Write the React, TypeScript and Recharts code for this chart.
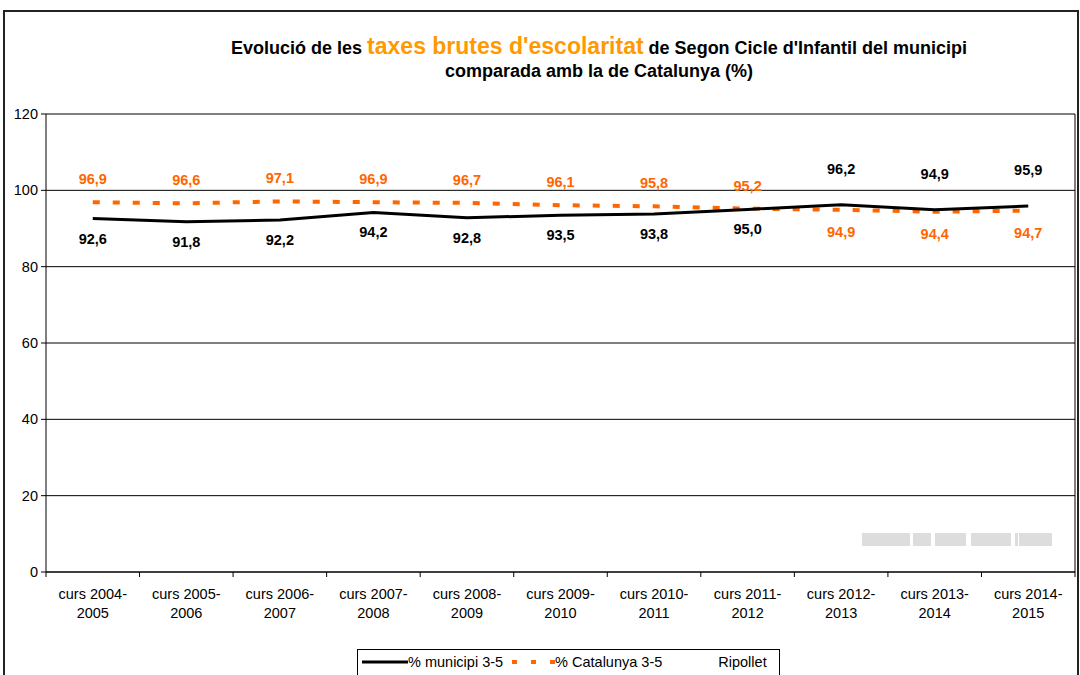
import React from "react";
import {
  LineChart,
  Line,
  XAxis,
  YAxis,
  CartesianGrid,
  LabelList,
} from "recharts";

const cursos = [
  "curs 2004-2005",
  "curs 2005-2006",
  "curs 2006-2007",
  "curs 2007-2008",
  "curs 2008-2009",
  "curs 2009-2010",
  "curs 2010-2011",
  "curs 2011-2012",
  "curs 2012-2013",
  "curs 2013-2014",
  "curs 2014-2015",
];
const municipi = [92.6, 91.8, 92.2, 94.2, 92.8, 93.5, 93.8, 95.0, 96.2, 94.9, 95.9];
const catalunya = [96.9, 96.6, 97.1, 96.9, 96.7, 96.1, 95.8, 95.2, 94.9, 94.4, 94.7];
const yTicks = [0, 20, 40, 60, 80, 100, 120];

const data = cursos.map((c, i) => ({
  curs: c,
  mun: municipi[i],
  cat: catalunya[i],
}));

const FONT = "'Liberation Sans', Arial, Helvetica, sans-serif";
const ORANGE = "#FF6600";
const PLOT_L = 46;
const PLOT_R = 1075;
const STEP = (PLOT_R - PLOT_L) / cursos.length;

const fmt = (v: number) => v.toFixed(1).replace(".", ",");

const XTick = ({ x, y, payload, index }: any) => {
  const [a, b] = String(payload.value).split("-");
  const axisY = y - 8;
  return (
    <g>
      <line x1={x - STEP / 2} x2={x - STEP / 2} y1={axisY} y2={axisY + 5} stroke="#000" />
      {index === cursos.length - 1 && (
        <line x1={x + STEP / 2} x2={x + STEP / 2} y1={axisY} y2={axisY + 5} stroke="#000" />
      )}
      <text x={x} y={axisY + 27} textAnchor="middle" fontSize={14.5} fill="#000" fontFamily={FONT}>
        {a}-
      </text>
      <text x={x} y={axisY + 46} textAnchor="middle" fontSize={14.5} fill="#000" fontFamily={FONT}>
        {b}
      </text>
    </g>
  );
};

const makeLabel = (key: "mun" | "cat") => (props: any) => {
  const { x, y, index, value } = props;
  const other = key === "mun" ? catalunya[index] : municipi[index];
  const above = value > other;
  let dy;
  if (key === "mun") dy = above ? -31 : 25;
  else dy = above ? -18 : 27;
  return (
    <text
      x={x}
      y={y + dy}
      textAnchor="middle"
      fontSize={14.5}
      fontWeight="bold"
      fill={key === "mun" ? "#000" : ORANGE}
      fontFamily={FONT}
    >
      {fmt(value)}
    </text>
  );
};

const legendItems = [
  { name: "% municipi 3-5", kind: "solid" },
  { name: "% Catalunya 3-5", kind: "dash" },
  { name: "Ripollet", kind: "none" },
];

const watermark = [
  [862, 48],
  [913, 18],
  [935, 31],
  [971, 40],
  [1015, 3],
  [1019, 33],
];

export default function App() {
  return (
    <div
      style={{
        position: "absolute",
        left: 0,
        top: 0,
        width: 1080,
        height: 675,
        overflow: "hidden",
        background: "#fff",
        fontFamily: FONT,
      }}
    >
      <div
        style={{
          position: "absolute",
          left: 3,
          top: 10,
          width: 1072,
          height: 700,
          border: "2px solid #222",
        }}
      />
      <div
        style={{
          position: "absolute",
          left: 0,
          top: 33,
          width: 1198,
          textAlign: "center",
          fontWeight: "bold",
          fontSize: 18,
          color: "#000",
          lineHeight: "26px",
        }}
      >
        <div>
          Evolució de les{" "}
          <span style={{ color: "#FF9900", fontSize: 23 }}>taxes brutes d'escolaritat</span>{" "}
          de Segon Cicle d'Infantil del municipi
        </div>
        <div style={{ marginTop: -3 }}>comparada amb la de Catalunya (%)</div>
      </div>
      <div style={{ position: "absolute", left: 0, top: 0 }}>
        <LineChart
          width={1080}
          height={675}
          data={data}
          margin={{ top: 114, right: 4, left: 6, bottom: 53 }}
        >
          <CartesianGrid vertical={false} stroke="#000" />
          <XAxis
            dataKey="curs"
            interval={0}
            height={50}
            padding={{ left: STEP / 2, right: STEP / 2 }}
            tickLine={false}
            tickSize={0}
            tickMargin={8}
            tick={<XTick />}
            axisLine={{ stroke: "#000" }}
          />
          <YAxis
            domain={[0, 120]}
            ticks={yTicks}
            width={40}
            tickSize={5}
            tickMargin={3}
            axisLine={{ stroke: "#000" }}
            tickLine={{ stroke: "#000" }}
            tick={{ fontSize: 14.5, fill: "#000", fontFamily: FONT }}
          />
          <YAxis
            yAxisId="r"
            orientation="right"
            width={1}
            tick={false}
            tickLine={false}
            axisLine={{ stroke: "#000" }}
          />
          <Line
            dataKey="cat"
            stroke={ORANGE}
            strokeWidth={4}
            strokeDasharray="7 13"
            dot={false}
            isAnimationActive={false}
          >
            <LabelList dataKey="cat" content={makeLabel("cat")} />
          </Line>
          <Line
            dataKey="mun"
            stroke="#000"
            strokeWidth={3}
            dot={false}
            isAnimationActive={false}
          >
            <LabelList dataKey="mun" content={makeLabel("mun")} />
          </Line>
        </LineChart>
      </div>
      {watermark.map(([x, w], i) => (
        <div
          key={i}
          style={{
            position: "absolute",
            left: x,
            top: 533,
            width: w,
            height: 13,
            background: "#dddddd",
          }}
        />
      ))}
      <div
        style={{
          position: "absolute",
          left: 357,
          top: 649,
          width: 421,
          height: 40,
          border: "1px solid #000",
          fontSize: 14.5,
          color: "#000",
          display: "flex",
          alignItems: "flex-start",
          paddingTop: 4,
        }}
      >
        {legendItems.map((it) => (
          <div
            key={it.name}
            style={{
              display: "flex",
              alignItems: "center",
              marginLeft: it.kind === "none" ? 56 : it.kind === "dash" ? 6 : 4,
            }}
          >
            {it.kind !== "none" && (
              <svg width={46} height={10}>
                <line
                  x1={it.kind === "dash" ? 3 : 0}
                  x2={46}
                  y1={5}
                  y2={5}
                  stroke={it.kind === "dash" ? ORANGE : "#000"}
                  strokeWidth={it.kind === "dash" ? 4 : 3}
                  strokeDasharray={it.kind === "dash" ? "5 14" : undefined}
                />
              </svg>
            )}
            <span>{it.name}</span>
          </div>
        ))}
      </div>
    </div>
  );
}
